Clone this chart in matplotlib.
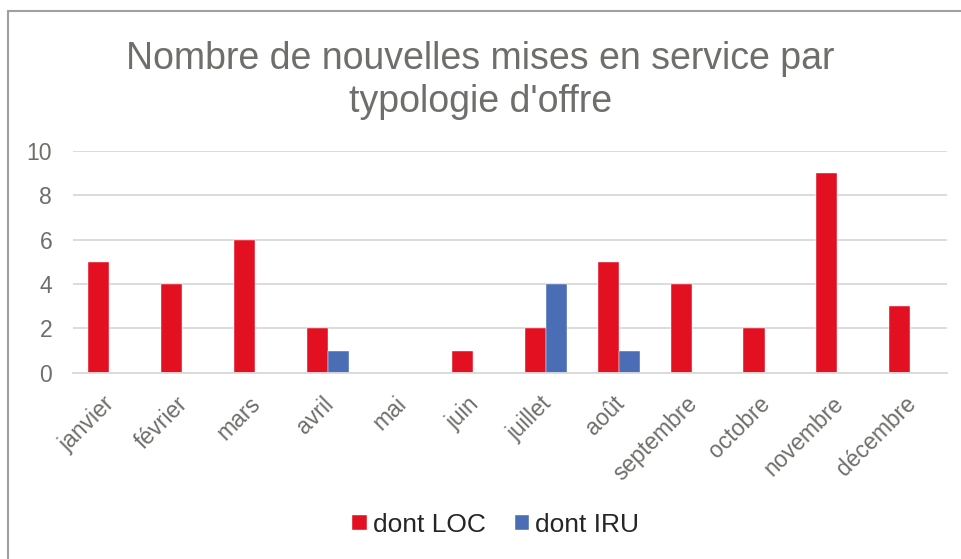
import matplotlib
matplotlib.use("Agg")
import matplotlib.pyplot as plt
import matplotlib.transforms as mtransforms
import numpy as np
from matplotlib.patches import Rectangle

months = ["janvier", "février", "mars", "avril", "mai", "juin", "juillet",
          "août", "septembre", "octobre", "novembre", "décembre"]
loc_vals = [5, 4, 6, 2, 0, 1, 2, 5, 4, 2, 9, 3]
iru_vals = [0, 0, 0, 1, 0, 0, 4, 1, 0, 0, 0, 0]

plt.rcParams['font.family'] = ['Liberation Sans', 'DejaVu Sans']

fig = plt.figure(figsize=(9.61, 5.59), dpi=100)
ax = fig.add_axes([0.076, 0.333, 0.909, 0.397])

x = np.arange(len(months))
w = 0.29
red = "#E31022"
blue = "#4A6DB5"
ax.bar(x - w/2, loc_vals, w, color=red, label="dont LOC", edgecolor="white", linewidth=0.3)
ax.bar(x + w/2, iru_vals, w, color=blue, label="dont IRU", edgecolor="white", linewidth=0.3)

gray = "#6E6E6A"
ax.set_xlim(-0.5, len(months) - 0.5)
ax.set_ylim(0, 10)
ax.set_yticks([0, 2, 4, 6, 8, 10])
ax.yaxis.grid(True, color="#D9D9D9", linewidth=1.3)
ax.set_axisbelow(True)
for s in ["top", "right", "left"]:
    ax.spines[s].set_visible(False)
ax.spines["bottom"].set_color("#D9D9D9")
ax.spines["bottom"].set_linewidth(1.3)
ax.tick_params(axis="both", length=0, colors=gray)
ax.tick_params(axis="y", pad=15, labelsize=16.5)
ax.set_xticks(x)
ax.set_xticklabels(months, rotation=45, ha="right", rotation_mode="anchor", fontsize=16.5)
ax.tick_params(axis="x", pad=14)
offset = mtransforms.ScaledTranslation(-6 / 100, 0, fig.dpi_scale_trans)
for lbl in ax.get_xticklabels():
    lbl.set_transform(lbl.get_transform() + offset)

fig.text(0.5, 0.876, "Nombre de nouvelles mises en service par",
         ha="center", va="baseline", fontsize=27, color=gray)
fig.text(0.5, 0.799, "typologie d'offre",
         ha="center", va="baseline", fontsize=27, color=gray)

leg = fig.legend(loc="center", bbox_to_anchor=(0.516, 0.061), ncol=2, frameon=False,
                 fontsize=19, handlelength=0.54, handleheight=0.54, columnspacing=1.08,
                 handletextpad=0.25, borderpad=0, borderaxespad=0)
for t in leg.get_texts():
    t.set_color("#262626")

fig.patches.append(Rectangle((0.0083, -0.2), 1.2, 1.18, transform=fig.transFigure,
                             fill=False, edgecolor="#A0A0A0", linewidth=1.5))

fig.savefig("out.png", dpi=100)
